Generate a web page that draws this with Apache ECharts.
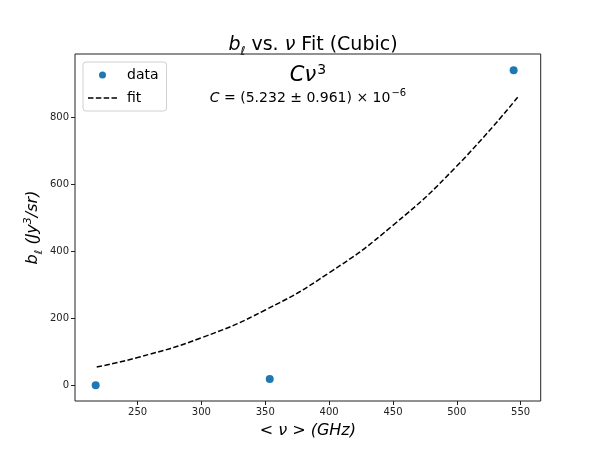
<!DOCTYPE html>
<html>
<head>
<meta charset="utf-8">
<script src="https://cdn.jsdelivr.net/npm/echarts@6/dist/echarts.min.js"></script>
<style>html,body{margin:0;padding:0;background:#fff}#c{width:600px;height:450px}</style>
</head>
<body>
<div id="c"></div>
<script>
// observed data
const dataNu = [217.2, 353.5, 544.5];
const dataB = [-1, 18, 940];
// fit curve
const fitNu = [218, 250, 300, 350, 400, 450, 500, 548];
const fitB = [54, 82, 141, 224, 335, 477, 654, 861];
// ticks
const xTicks = [250, 300, 350, 400, 450, 500, 550];
const yTicks = [0, 200, 400, 600, 800];
const seriesNames = ['data', 'fit'];

const F = 'DejaVu Sans';
const dashIcon = 'path://M0,0L0.01,0L0,0.01Z M0,2.75H5.55V4.25H0Z M7.95,2.75H13.5V4.25H7.95Z M15.9,2.75H21.45V4.25H15.9Z M23.85,2.75H29.4V4.25H23.85Z M29.39,7L29.4,7L29.4,6.99Z';
const chart = echarts.init(document.getElementById('c'), null, {renderer: 'canvas'});
chart.setOption({
  animation: false,
  backgroundColor: '#fff',
  grid: {left: 75, right: 59.3, top: 54, bottom: 49, show: true, borderColor: '#222', borderWidth: 1, backgroundColor: 'transparent'},
  title: {
    text: '{i|b}{s|ℓ}{n| vs. }{i|ν}{n| Fit (Cubic)}',
    left: 308, top: 31, textAlign: 'center',
    textStyle: {
      fontWeight: 'normal',
      rich: {
        i: {fontFamily: F, fontStyle: 'italic', fontWeight: 'normal', fontSize: 19, color: '#000', verticalAlign: 'bottom'},
        n: {fontFamily: F, fontWeight: 'normal', fontSize: 19, color: '#000', verticalAlign: 'bottom'},
        s: {fontFamily: F, fontStyle: 'italic', fontWeight: 'normal', fontSize: 12, color: '#000', verticalAlign: 'bottom', padding: [0, 0, -3, 0]}
      }
    }
  },
  legend: {
    data: [
      {name: seriesNames[0], icon: 'circle', itemStyle: {color: '#1f77b4', opacity: 1}},
      {name: seriesNames[1], icon: dashIcon, itemStyle: {color: '#000', borderWidth: 0}}
    ],
    orient: 'vertical', left: 83, top: 62,
    itemWidth: 29, itemHeight: 7, itemGap: 9,
    padding: [6, 8, 6, 5],
    borderColor: '#d0d0d0', borderWidth: 1, borderRadius: 3,
    backgroundColor: 'rgba(255,255,255,0.8)',
    textStyle: {fontFamily: F, fontSize: 14, color: '#000', padding: [0, 0, 0, 5]}
  },
  graphic: [
    {type: 'text', z: 10,
     position: [308, 75], style: {text: '{i|Cν}{p|3}', fontFamily: F, fontSize: 21, fill: '#000', align: 'center', verticalAlign: 'middle',
       rich: {i: {fontFamily: F, fontStyle: 'italic', fontSize: 21, verticalAlign: 'bottom'},
              p: {fontFamily: F, fontSize: 14, verticalAlign: 'bottom', padding: [0, 0, 9, 1]}}}},
    {type: 'text', z: 10,
     position: [308, 97], style: {text: '{i|C}{n| = (5.232 ± 0.961) × 10}{p|−6}', fontFamily: F, fontSize: 14, fill: '#000', align: 'center', verticalAlign: 'middle',
       rich: {i: {fontFamily: F, fontStyle: 'italic', fontSize: 14, verticalAlign: 'bottom'},
              n: {fontFamily: F, fontSize: 14, verticalAlign: 'bottom'},
              p: {fontFamily: F, fontSize: 10, verticalAlign: 'bottom', padding: [0, 0, 7, 1]}}}}
  ],
  xAxis: {
    type: 'value', min: 201, max: 565.7,
    name: '< ν > (GHz)', nameLocation: 'middle', nameGap: 22, nameMoveOverlap: false,
    nameTextStyle: {fontFamily: F, fontStyle: 'italic', fontSize: 16, color: '#000', verticalAlign: 'top'},
    axisLine: {show: false, onZero: false},
    splitLine: {show: false},
    axisTick: {show: true, length: 4, inside: false, lineStyle: {color: '#222'}, customValues: xTicks},
    axisLabel: {fontFamily: F, fontSize: 10, color: '#222', margin: 6, customValues: xTicks}
  },
  yAxis: {
    type: 'value', min: -47.8, max: 988.7,
    name: '{i|b}{s|ℓ}{i| (Jy}{p|3}{i|/sr)}', nameLocation: 'middle', nameGap: 34, nameRotate: 90, nameMoveOverlap: false,
    nameTextStyle: {
      rich: {
        i: {fontFamily: F, fontStyle: 'italic', fontSize: 16, color: '#000', verticalAlign: 'bottom'},
        s: {fontFamily: F, fontStyle: 'italic', fontSize: 11, color: '#000', verticalAlign: 'bottom', padding: [0, 0, -4, 0]},
        p: {fontFamily: F, fontStyle: 'italic', fontSize: 11, color: '#000', verticalAlign: 'bottom', padding: [0, 0, 7, 0]}
      }
    },
    axisLine: {show: false, onZero: false},
    splitLine: {show: false},
    axisTick: {show: true, length: 4, inside: false, lineStyle: {color: '#222'}, customValues: yTicks},
    axisLabel: {fontFamily: F, fontSize: 10, color: '#222', margin: 6, customValues: yTicks}
  },
  series: [
    {
      name: seriesNames[0], type: 'scatter', symbol: 'circle', symbolSize: 8,
      itemStyle: {color: '#1f77b4', opacity: 1},
      data: dataNu.map((x, i) => [x, dataB[i]]), z: 3
    },
    {
      name: seriesNames[1], type: 'line', smooth: true, showSymbol: false, symbol: 'none',
      lineStyle: {color: '#000', width: 1.5, type: [5.5, 2.4]},
      itemStyle: {color: '#000'},
      data: fitNu.map((x, i) => [x, fitB[i]]), z: 2
    }
  ]
});
</script>
</body>
</html>
